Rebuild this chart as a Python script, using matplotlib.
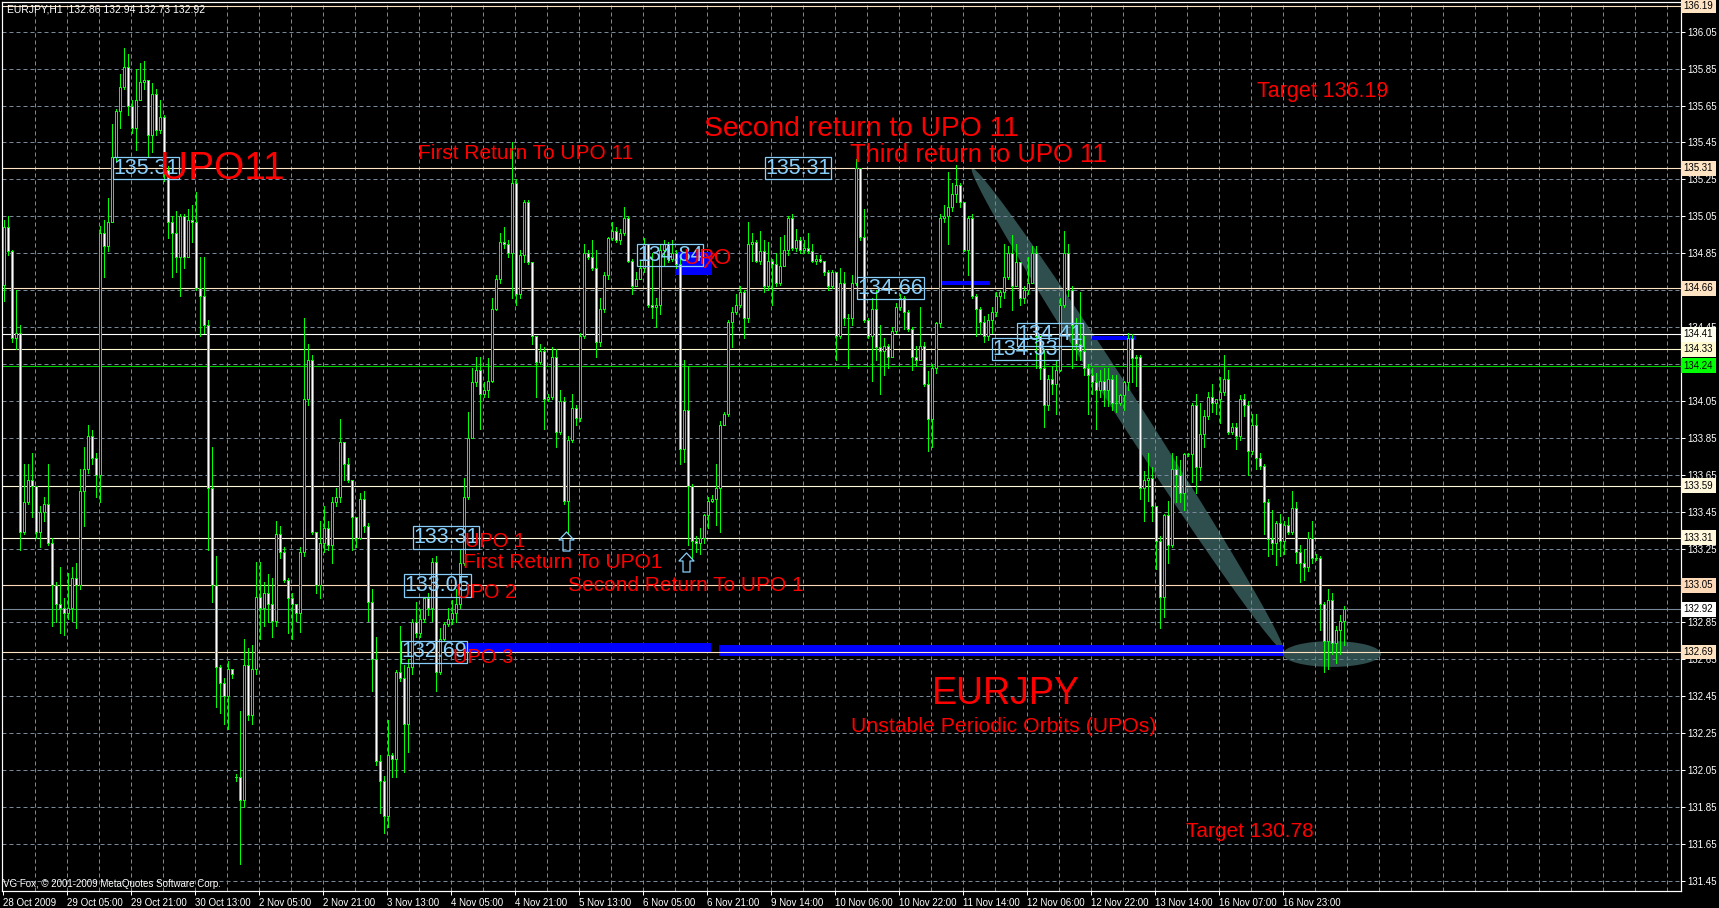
import numpy as np
import matplotlib
matplotlib.use("Agg")
import matplotlib.pyplot as plt
from matplotlib.patches import Rectangle, Ellipse, Polygon
from matplotlib.collections import LineCollection
from matplotlib.path import Path

# ---------------- data ----------------
symbol = "EURJPY,H1"
time_labels = ["28 Oct 2009", "29 Oct 05:00", "29 Oct 21:00", "30 Oct 13:00", "2 Nov 05:00",
               "2 Nov 21:00", "3 Nov 13:00", "4 Nov 05:00", "4 Nov 21:00", "5 Nov 13:00",
               "6 Nov 05:00", "6 Nov 21:00", "9 Nov 14:00", "10 Nov 06:00", "10 Nov 22:00",
               "11 Nov 14:00", "12 Nov 06:00", "12 Nov 22:00", "13 Nov 14:00", "16 Nov 07:00",
               "16 Nov 23:00"]

opens = [
    134.68, 134.99, 134.86, 134.39, 134.42, 133.34, 133.50, 133.62, 133.59, 133.34, 133.45, 133.49, 133.28, 133.05, 132.95, 132.93,
    132.90, 132.93, 133.09, 133.05, 133.56, 133.68, 133.86, 133.74, 133.65, 134.96, 134.89, 135.02, 135.37, 135.62, 135.75, 135.86,
    135.65, 135.53, 135.68, 135.78, 135.79, 135.49, 135.71, 135.52, 135.59, 135.30, 135.02, 134.96, 134.83, 135.05, 134.83, 135.03,
    135.02, 134.66, 134.62, 134.46, 133.58, 133.05, 132.61, 132.52, 132.45, 132.60, 132.01, 132.01, 131.89, 132.62, 132.35, 132.60,
    132.99, 132.93, 133.01, 132.95, 132.86, 133.33, 133.23, 133.08, 132.98, 132.95, 132.90, 133.23, 134.06, 134.27, 133.34, 133.05,
    133.28, 133.36, 133.27, 133.50, 133.53, 133.83, 133.71, 133.62, 133.42, 133.31, 133.52, 133.37, 132.96, 132.65, 132.10, 131.99,
    131.80, 132.13, 132.11, 132.58, 132.55, 132.30, 132.61, 132.85, 132.79, 132.87, 132.98, 132.93, 133.18, 132.58, 132.76, 132.84,
    132.87, 132.90, 132.95, 133.17, 133.53, 133.85, 134.15, 134.22, 134.09, 134.11, 134.16, 134.55, 134.71, 134.91, 134.90, 134.85,
    135.23, 134.63, 134.84, 135.13, 134.80, 134.40, 134.26, 134.32, 134.06, 134.07, 134.29, 133.88, 134.05, 133.51, 133.84, 134.01,
    133.96, 134.40, 134.85, 134.83, 134.77, 134.37, 134.55, 134.73, 134.93, 134.97, 134.92, 134.96, 135.04, 134.81, 134.67, 134.71,
    134.77, 134.90, 134.57, 134.56, 134.57, 134.87, 134.90, 134.82, 134.85, 134.79, 133.79, 134.00, 133.59, 133.29, 133.28, 133.31,
    133.43, 133.51, 133.52, 133.58, 133.92, 133.98, 134.48, 134.53, 134.57, 134.64, 134.50, 134.90, 134.91, 134.81, 134.86, 134.67,
    134.81, 134.79, 134.69, 134.78, 134.87, 135.04, 134.88, 134.92, 134.87, 134.88, 134.86, 134.81, 134.82, 134.81, 134.75, 134.67,
    134.75, 134.40, 134.69, 134.50, 134.50, 134.69, 135.31, 134.94, 134.49, 134.40, 134.55, 134.34, 134.32, 134.35, 134.29, 134.43,
    134.56, 134.61, 134.53, 134.44, 134.29, 134.27, 134.35, 134.14, 133.95, 134.23, 134.47, 135.04, 135.05, 135.10, 135.17, 135.22,
    135.13, 134.87, 135.04, 134.62, 134.55, 134.48, 134.40, 134.49, 134.53, 134.62, 134.64, 134.72, 134.85, 134.67, 134.80, 134.61,
    134.65, 134.69, 134.85, 134.40, 134.23, 134.03, 134.17, 134.14, 134.22, 134.57, 134.85, 134.65, 134.46, 134.36, 134.32, 134.23,
    134.19, 134.15, 134.11, 134.16, 134.11, 134.17, 134.04, 134.04, 134.08, 134.15, 134.39, 134.28, 134.29, 133.58, 133.62, 133.63,
    133.48, 133.29, 132.99, 133.43, 133.27, 133.68, 133.65, 133.55, 133.76, 133.76, 134.03, 133.69, 133.87, 133.97, 134.07, 134.04,
    134.06, 134.10, 134.17, 133.88, 133.91, 133.86, 134.06, 134.03, 133.78, 133.92, 133.74, 133.70, 133.50, 133.30, 133.28, 133.39,
    133.29, 133.38, 133.34, 133.47, 133.23, 133.17, 133.15, 133.31, 133.20, 133.20, 132.95, 132.75, 132.97, 132.74, 132.81, 132.86]

highs = [
    135.03, 135.05, 134.87, 134.65, 134.46, 133.71, 133.71, 133.77, 133.59, 133.48, 133.53, 133.71, 133.31, 133.07, 133.15, 132.98,
    133.12, 133.15, 133.17, 133.68, 133.80, 133.92, 133.89, 133.77, 135.00, 135.03, 135.15, 135.55, 135.63, 135.82, 135.96, 135.93,
    135.68, 135.85, 135.88, 135.89, 135.79, 135.77, 135.74, 135.68, 135.60, 135.32, 135.05, 135.08, 135.06, 135.06, 135.09, 135.11,
    135.18, 134.83, 134.83, 134.49, 133.80, 133.21, 132.62, 132.55, 132.64, 132.60, 132.03, 132.37, 132.76, 132.71, 132.73, 133.18,
    133.18, 133.07, 133.11, 133.09, 133.40, 133.37, 133.26, 133.09, 133.01, 132.95, 133.26, 134.50, 134.36, 134.30, 133.34, 133.40,
    133.48, 133.40, 133.53, 133.58, 133.95, 133.83, 133.74, 133.62, 133.42, 133.55, 133.56, 133.39, 133.03, 132.77, 132.13, 132.02,
    132.32, 132.14, 132.59, 132.83, 132.62, 132.65, 132.87, 132.96, 132.92, 132.99, 133.01, 133.20, 133.21, 132.82, 132.85, 132.93,
    132.97, 133.03, 133.24, 133.63, 133.99, 134.23, 134.29, 134.29, 134.15, 134.28, 134.61, 134.73, 134.96, 134.99, 134.92, 135.45,
    135.25, 134.87, 135.14, 135.14, 134.80, 134.40, 134.36, 134.34, 134.09, 134.34, 134.33, 134.11, 134.07, 133.86, 134.09, 134.03,
    134.42, 134.90, 134.87, 134.92, 134.87, 134.61, 134.75, 134.94, 135.02, 134.99, 134.98, 135.10, 135.05, 134.82, 134.75, 134.81,
    134.93, 134.90, 134.85, 134.61, 134.90, 134.92, 134.91, 134.92, 134.87, 134.83, 134.27, 134.24, 133.60, 133.32, 133.36, 133.44,
    133.53, 133.54, 133.71, 133.94, 133.99, 134.49, 134.56, 134.63, 134.67, 134.65, 135.02, 134.96, 134.92, 134.97, 134.92, 134.91,
    134.82, 134.85, 134.94, 134.95, 135.05, 135.06, 134.98, 134.94, 134.92, 134.96, 134.90, 134.84, 134.84, 134.81, 134.76, 134.76,
    134.75, 134.77, 134.75, 134.52, 134.73, 135.36, 135.31, 135.09, 134.50, 134.61, 134.65, 134.46, 134.39, 134.36, 134.45, 134.58,
    134.63, 134.62, 134.54, 134.45, 134.35, 134.56, 134.37, 134.21, 134.25, 134.48, 135.06, 135.11, 135.29, 135.23, 135.33, 135.23,
    135.13, 135.05, 135.06, 134.63, 134.56, 134.51, 134.52, 134.56, 134.64, 134.65, 134.90, 134.89, 134.95, 134.90, 134.80, 134.67,
    134.83, 134.89, 134.89, 134.40, 134.33, 134.19, 134.24, 134.27, 134.61, 134.97, 134.90, 134.67, 134.50, 134.64, 134.40, 134.25,
    134.23, 134.20, 134.22, 134.23, 134.23, 134.19, 134.19, 134.09, 134.16, 134.42, 134.41, 134.30, 134.30, 133.67, 133.77, 133.69,
    133.48, 133.32, 133.44, 133.51, 133.77, 133.75, 133.73, 133.77, 133.77, 134.04, 134.09, 134.04, 134.00, 134.10, 134.14, 134.06,
    134.18, 134.30, 134.22, 133.93, 133.93, 134.08, 134.09, 134.05, 133.98, 133.98, 133.77, 133.71, 133.52, 133.46, 133.40, 133.44,
    133.40, 133.42, 133.56, 133.50, 133.27, 133.25, 133.34, 133.40, 133.22, 133.21, 132.96, 133.03, 133.01, 132.83, 132.89, 132.94]

lows = [
    134.59, 134.84, 134.37, 134.33, 133.24, 133.33, 133.49, 133.42, 133.31, 133.26, 133.40, 133.27, 132.83, 132.85, 132.79, 132.78,
    132.87, 132.86, 132.82, 133.03, 133.37, 133.66, 133.71, 133.53, 133.50, 134.72, 134.86, 135.02, 135.35, 135.53, 135.74, 135.60,
    135.50, 135.41, 135.68, 135.74, 135.37, 135.40, 135.49, 135.50, 135.24, 134.93, 134.72, 134.75, 134.62, 134.77, 134.83, 134.91,
    134.65, 134.40, 134.42, 133.24, 132.96, 132.39, 132.36, 132.30, 132.27, 132.55, 131.99, 131.54, 131.85, 132.32, 132.30, 132.57,
    132.76, 132.83, 132.85, 132.77, 132.83, 133.20, 133.07, 132.79, 132.76, 132.86, 132.80, 133.21, 134.03, 133.33, 133.01, 132.98,
    133.23, 133.24, 133.17, 133.48, 133.50, 133.62, 133.61, 133.24, 133.26, 133.30, 133.34, 132.86, 132.48, 132.08, 131.82, 131.71,
    131.74, 132.01, 132.01, 132.53, 132.04, 132.15, 132.57, 132.77, 132.77, 132.85, 132.89, 132.86, 132.48, 132.57, 132.75, 132.83,
    132.84, 132.85, 132.93, 133.16, 133.52, 133.86, 134.13, 133.90, 134.07, 134.07, 134.15, 134.54, 134.69, 134.88, 134.83, 134.61,
    134.57, 134.61, 134.80, 134.79, 134.36, 134.07, 134.25, 133.90, 134.05, 134.06, 133.80, 133.87, 133.49, 133.33, 133.83, 133.92,
    133.94, 134.39, 134.82, 134.76, 134.29, 134.35, 134.53, 134.71, 134.92, 134.91, 134.90, 134.95, 134.80, 134.63, 134.67, 134.71,
    134.75, 134.56, 134.50, 134.45, 134.52, 134.78, 134.80, 134.81, 134.77, 133.71, 133.72, 133.27, 133.20, 133.23, 133.22, 133.28,
    133.36, 133.50, 133.38, 133.34, 133.92, 133.97, 134.34, 134.52, 134.56, 134.39, 134.48, 134.81, 134.80, 134.79, 134.64, 134.65,
    134.57, 134.67, 134.68, 134.78, 134.84, 134.87, 134.86, 134.85, 134.85, 134.85, 134.80, 134.79, 134.80, 134.73, 134.65, 134.66,
    134.27, 134.39, 134.46, 134.23, 134.46, 134.68, 134.92, 134.48, 134.39, 134.16, 134.27, 134.09, 134.19, 134.23, 134.29, 134.42,
    134.54, 134.44, 134.43, 134.22, 134.24, 134.27, 134.13, 133.78, 133.80, 134.20, 134.45, 135.02, 134.90, 135.08, 135.13, 135.10,
    134.86, 134.73, 134.61, 134.40, 134.41, 134.37, 134.38, 134.42, 134.51, 134.56, 134.61, 134.71, 134.54, 134.67, 134.57, 134.58,
    134.63, 134.69, 134.23, 134.17, 133.91, 134.00, 134.09, 133.98, 134.21, 134.56, 134.62, 134.23, 134.27, 134.27, 134.19, 133.98,
    134.09, 133.90, 134.07, 134.02, 134.02, 134.00, 133.99, 134.03, 134.00, 134.11, 134.15, 134.13, 133.52, 133.40, 133.51, 133.40,
    133.14, 132.82, 132.88, 133.17, 133.26, 133.50, 133.50, 133.46, 133.75, 133.61, 133.55, 133.62, 133.80, 133.95, 133.99, 133.98,
    133.93, 134.08, 133.87, 133.87, 133.79, 133.84, 133.97, 133.65, 133.76, 133.68, 133.68, 133.33, 133.21, 133.22, 133.16, 133.21,
    133.22, 133.33, 133.33, 133.17, 133.07, 133.08, 133.13, 133.17, 133.19, 132.81, 132.58, 132.60, 132.68, 132.63, 132.68, 132.73]

closes = [
    134.99, 134.86, 134.39, 134.42, 133.34, 133.50, 133.62, 133.59, 133.34, 133.45, 133.49, 133.28, 133.05, 132.95, 132.93, 132.90,
    132.93, 133.09, 133.05, 133.56, 133.68, 133.86, 133.74, 133.65, 134.96, 134.89, 135.02, 135.37, 135.62, 135.75, 135.86, 135.65,
    135.53, 135.68, 135.78, 135.79, 135.49, 135.71, 135.52, 135.59, 135.30, 135.02, 134.96, 134.83, 135.05, 134.83, 135.03, 135.02,
    134.66, 134.62, 134.46, 133.58, 133.05, 132.61, 132.52, 132.45, 132.60, 132.57, 132.01, 131.89, 132.62, 132.35, 132.60, 132.99,
    132.93, 133.01, 132.95, 132.86, 133.33, 133.23, 133.08, 132.98, 132.95, 132.90, 133.23, 134.06, 134.27, 133.34, 133.05, 133.28,
    133.36, 133.27, 133.50, 133.53, 133.83, 133.71, 133.62, 133.42, 133.31, 133.52, 133.37, 132.96, 132.65, 132.10, 131.99, 131.80,
    132.13, 132.11, 132.58, 132.55, 132.30, 132.61, 132.85, 132.79, 132.87, 132.98, 132.93, 133.18, 132.58, 132.76, 132.84, 132.87,
    132.90, 132.95, 133.17, 133.53, 133.85, 134.15, 134.22, 134.09, 134.11, 134.16, 134.55, 134.71, 134.91, 134.90, 134.85, 135.23,
    134.63, 134.84, 135.13, 134.80, 134.40, 134.26, 134.32, 134.06, 134.07, 134.29, 133.88, 134.05, 133.51, 133.84, 134.01, 133.96,
    134.40, 134.85, 134.83, 134.77, 134.37, 134.55, 134.73, 134.93, 134.97, 134.92, 134.96, 135.04, 134.81, 134.67, 134.71, 134.77,
    134.90, 134.57, 134.56, 134.57, 134.87, 134.90, 134.82, 134.85, 134.79, 133.79, 134.00, 133.59, 133.29, 133.28, 133.31, 133.43,
    133.51, 133.52, 133.58, 133.92, 133.98, 134.48, 134.53, 134.57, 134.64, 134.50, 134.90, 134.91, 134.81, 134.86, 134.67, 134.81,
    134.79, 134.69, 134.78, 134.87, 135.04, 134.88, 134.92, 134.87, 134.88, 134.86, 134.81, 134.82, 134.81, 134.75, 134.67, 134.75,
    134.40, 134.69, 134.50, 134.50, 134.69, 135.31, 134.94, 134.49, 134.40, 134.55, 134.34, 134.32, 134.35, 134.29, 134.43, 134.56,
    134.61, 134.53, 134.44, 134.29, 134.27, 134.35, 134.14, 133.95, 134.23, 134.47, 135.04, 135.05, 135.10, 135.17, 135.22, 135.13,
    134.87, 135.04, 134.62, 134.55, 134.48, 134.40, 134.49, 134.53, 134.62, 134.64, 134.72, 134.85, 134.67, 134.80, 134.61, 134.65,
    134.69, 134.85, 134.40, 134.23, 134.03, 134.17, 134.14, 134.22, 134.57, 134.85, 134.65, 134.46, 134.36, 134.32, 134.23, 134.19,
    134.15, 134.11, 134.16, 134.11, 134.17, 134.04, 134.04, 134.08, 134.15, 134.39, 134.28, 134.29, 133.58, 133.62, 133.63, 133.48,
    133.29, 132.99, 133.43, 133.27, 133.68, 133.65, 133.55, 133.76, 133.76, 134.03, 133.69, 133.87, 133.97, 134.07, 134.04, 134.06,
    134.10, 134.17, 133.88, 133.91, 133.86, 134.06, 134.03, 133.78, 133.92, 133.74, 133.70, 133.50, 133.30, 133.28, 133.39, 133.29,
    133.38, 133.34, 133.47, 133.23, 133.17, 133.15, 133.31, 133.20, 133.20, 132.95, 132.75, 132.97, 132.74, 132.81, 132.86, 132.92]

# horizontal level lines (price, line colour, axis box colour)
level_prices = [136.19, 135.31, 134.66, 134.41, 134.33, 134.24, 133.59, 133.31, 133.05, 132.92, 132.69]
level_line_colors = ["#FFE4C4", "#FFE4C4", "#FFE4C4", "#FFFFFF", "#FFFACD", "#00D000",
                     "#FFF8DC", "#FFF8DC", "#FFDAB9", "#778899", "#FFE4C4"]
level_box_colors = ["#FFE4C4", "#FFE4C4", "#FFE4C4", "#FFFFF0", "#FFFACD", "#00FF00",
                    "#FFF8DC", "#FFF8DC", "#FFDAB9", "#FFFFFF", "#FFE4C4"]

# UPO zones (bar index from, bar index to, price low, price high)
zone_x0 = [167.75, 234.5, 272.0, 114.75, 178.75]
zone_x1 = [177.0, 246.5, 282.75, 176.75, 319.75]
zone_p0 = [134.73, 134.679, 134.38, 132.686, 132.666]
zone_p1 = [134.857, 134.70, 134.40, 132.74, 132.73]

# price label objects (text, bar index, price)
label_texts = ["135.31", "135.31", "134.84", "134.66", "134.41", "134.33", "133.31", "133.05", "132.69"]
label_bars = [35.5, 198.5, 166.5, 221.6, 261.5, 255.4, 110.5, 108.4, 107.5]
label_prices = [135.31, 135.31, 134.84, 134.66, 134.41, 134.33, 133.31, 133.05, 132.69]

# arrow objects (bar index, price)
arrow_bars = [140.4, 170.4]
arrow_prices = [133.29, 133.18]

# ---------------- figure ----------------
W, H = 1719, 908
fig = plt.figure(figsize=(W / 100, H / 100), dpi=100, facecolor="black")
ax = fig.add_axes([2 / W, (H - 891) / H, 1679 / W, 889 / H])
ax.set_facecolor("black")
ax.set_xlim(-0.5, 419.25)
ax.set_ylim(131.395, 136.211)

FONT = "Liberation Sans"
GRID = "#778899"
LIME = "#00FF00"
PX = 0.72  # one pixel in points

# grid
grid_prices = np.round(np.arange(131.45, 136.06, 0.2), 2)
for p in grid_prices:
    ax.axhline(p, color=GRID, lw=PX, ls=(0, (4, 3)), zorder=1.6)
for k in range(1, 53):
    ax.axvline(8 * k - 0.25, color=GRID, lw=PX, ls=(0, (4, 3)), zorder=1.6)

# diagonal band (from third return at 135.31 down to UPO 3) and target ellipse
band_a = np.array([242.0, 135.31])
band_b = np.array([319.75, 132.70])
pa = ax.transData.transform(band_a)
pb = ax.transData.transform(band_b)
mid = (pa + pb) / 2
L = np.linalg.norm(pb - pa)
u = (pb - pa) / L
nv = np.array([-u[1], u[0]])
th = np.linspace(0, 2 * np.pi, 200)
pts = mid + np.outer(np.cos(th) * L / 2, u) + np.outer(np.sin(th) * 12.5, nv)
pts_data = ax.transData.inverted().transform(pts)
ax.add_patch(Polygon(pts_data, closed=True, fc="#2F4F4F", ec="none", zorder=1.2))

# zones
for x0, x1, p0, p1 in zip(zone_x0, zone_x1, zone_p0, zone_p1):
    ax.add_patch(Rectangle((x0, p0), x1 - x0, p1 - p0, fc="#0000FF", ec="none", zorder=2))

ax.add_patch(Ellipse((332, 132.679), 24.5, 0.14, fc="#4F7F7F", ec="none", alpha=0.6, zorder=2.2))

# level lines
for p, c in zip(level_prices, level_line_colors):
    ax.axhline(p, color=c, lw=PX * 1.1, zorder=2.5)

# candles
n = len(closes)
segs = []
for i in range(n):
    o, h, l, c = opens[i], highs[i], lows[i], closes[i]
    segs.append([(i, min(l, o, c)), (i, max(h, o, c))])
    if abs(c - o) < 1e-9:
        segs.append([(i - 0.25, o), (i + 0.25, o)])
ax.add_collection(LineCollection(segs, colors=LIME, linewidths=PX, zorder=4, antialiased=False))
for i in range(n):
    o, c = opens[i], closes[i]
    if abs(c - o) < 1e-9:
        continue
    fc = "white" if c < o else "black"
    ax.add_patch(Rectangle((i - 0.25, min(o, c)), 0.5, abs(c - o), fc=fc, ec=LIME,
                           lw=PX, zorder=4.5, antialiased=False))

# price label objects
for t, b, p in zip(label_texts, label_bars, label_prices):
    ax.text(b, p, t, color="#87CEFA", fontsize=15.5, family=FONT, ha="center", va="center",
            zorder=6, bbox=dict(boxstyle="square,pad=0.03", fc="none", ec="#87CEFA", lw=0.9))

# arrows
arrow = Path([(0, 9.5), (7.5, 1.5), (3.5, 1.5), (3.5, -9.5), (-3.5, -9.5), (-3.5, 1.5), (-7.5, 1.5), (0, 9.5)],
             [Path.MOVETO] + [Path.LINETO] * 6 + [Path.CLOSEPOLY])
ax.plot(arrow_bars, arrow_prices, ls="none", marker=arrow, ms=13.7, mfc="none",
        mec="#87CEFA", mew=0.9, zorder=6)

# red annotation texts
RED = "#FF0000"
def red(x, y, s, size):
    ax.text(x, y, s, color=RED, fontsize=size, family=FONT, ha="left", va="baseline", zorder=7)

red(39, 135.252, "UPO11", 28)
red(103.5, 135.36, "First Return To UPO 11", 15)
red(175, 135.484, "Second return to UPO 11", 20.3)
red(211.5, 135.344, "Third return to UPO 11", 18.4)
red(313.25, 135.696, "Target 136.19", 15.5)
red(295.5, 131.687, "Target 130.78", 15)
red(169.75, 134.79, "UPO", 16)
red(174.5, 134.77, "X", 16)
red(115.25, 133.258, "UPO 1", 14.5)
red(113, 132.98, "UPO 2", 14.5)
red(112.25, 132.63, "UPO 3", 14.5)
red(114.75, 133.144, "First Return To UPO1", 15)
red(141, 133.02, "Second Return To UPO 1", 15)
red(232, 132.407, "EURJPY", 27)
red(211.75, 132.256, "Unstable Periodic Orbits (UPOs)", 15.3)

# axes / frame
for s in ax.spines.values():
    s.set_color("white")
    s.set_linewidth(PX * 1.2)
ax.yaxis.tick_right()
ax.set_yticks(grid_prices)
# scale labels sitting exactly under a level box are hidden by it, as on the terminal
ax.set_yticklabels(["" if min(abs(p - q) for q in level_prices) < 0.025 else f"{p:.2f}"
                    for p in grid_prices])
ax.tick_params(axis="y", colors="white", labelcolor="white", labelsize=7, length=3, width=PX, pad=1.5)
xt = [16 * k - 0.25 for k in range(len(time_labels))]
ax.set_xticks(xt)
ax.set_xticklabels(time_labels)
ax.tick_params(axis="x", colors="white", labelcolor="white", labelsize=7, length=3, width=PX, pad=2)
for lab in ax.get_xticklabels():
    lab.set_ha("left")
    lab.set_family(FONT)
for lab in ax.get_yticklabels():
    lab.set_family(FONT)

# level boxes on the price scale
ytr = ax.get_yaxis_transform()
for p, c in zip(level_prices, level_box_colors):
    ax.text(1.0016, p, f"{p:.2f}", transform=ytr, ha="left", va="center", fontsize=7,
            family=FONT, color="black", clip_on=False, zorder=8,
            bbox=dict(boxstyle="square,pad=0.25", fc=c, ec="none"))

# header and copyright
header = f"{symbol}  {opens[-1]:.2f} {highs[-1]:.2f} {lows[-1]:.2f} {closes[-1]:.2f}"
ax.text(0.003, 0.9915, header, transform=ax.transAxes, color="white", fontsize=7.5,
        family=FONT, ha="left", va="center", zorder=9)
ax.text(0.0006, 0.008, "VG Fox, \u00a9 2001-2009 MetaQuotes Software Corp.", transform=ax.transAxes,
        color="white", fontsize=7, family=FONT, ha="left", va="center", zorder=9)

fig.savefig("out.png", dpi=100, facecolor="black")
